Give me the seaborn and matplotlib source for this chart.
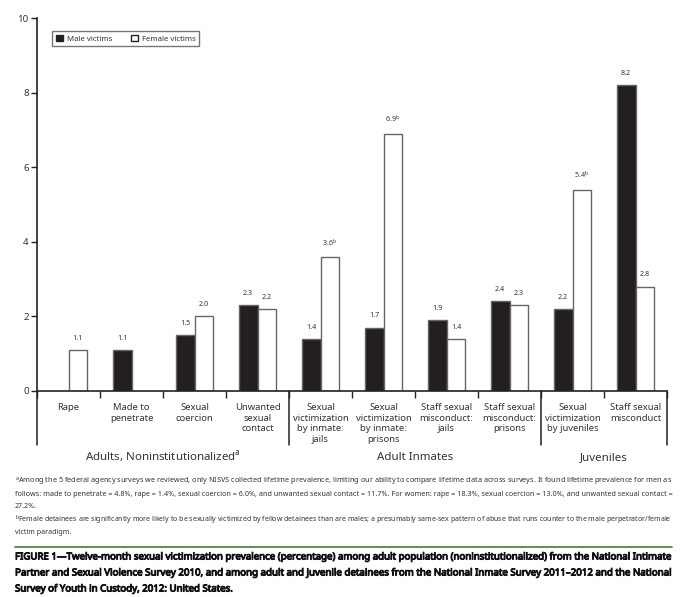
import matplotlib
matplotlib.use("Agg")
import matplotlib.pyplot as plt
import matplotlib.patheffects as pe
import seaborn as sns
import numpy as np
import pandas as pd

categories = ["Rape", "Made to\npenetrate", "Sexual\ncoercion", "Unwanted\nsexual\ncontact",
              "Sexual\nvictimization\nby inmate:\njails", "Sexual\nvictimization\nby inmate:\nprisons",
              "Staff sexual\nmisconduct:\njails", "Staff sexual\nmisconduct:\nprisons",
              "Sexual\nvictimization\nby juveniles", "Staff sexual\nmisconduct"]
male = [np.nan, 1.1, 1.5, 2.3, 1.4, 1.7, 1.9, 2.4, 2.2, 8.2]
female = [1.1, np.nan, 2.0, 2.2, 3.6, 6.9, 1.4, 2.3, 5.4, 2.8]
male_labels = ["", "1.1", "1.5", "2.3", "1.4", "1.7", "1.9", "2.4", "2.2", "8.2"]
female_labels = ["1.1", "", "2.0", "2.2", "3.6$^\\mathregular{b}$", "6.9$^\\mathregular{b}$", "1.4", "2.3",
                 "5.4$^\\mathregular{b}$", "2.8"]
series_names = ["Male victims", "Female victims"]
groups = ["Adults, Noninstitutionalized$^\\mathregular{a}$", "Adult Inmates", "Juveniles"]
group_spans = [(0, 3), (4, 7), (8, 9)]

sns.set_theme(style="white")
plt.rcParams['font.family'] = ['Noto Sans', 'DejaVu Sans']
txt = "#333333"

df = pd.DataFrame({
    "category": categories * 2,
    "value": male + female,
    "sex": [series_names[0]] * len(categories) + [series_names[1]] * len(categories),
})

fig = plt.figure(figsize=(6.88, 5.97), dpi=100)
ax = fig.add_axes([37 / 688, 1 - 391 / 597, 630 / 688, 373 / 597])

sns.barplot(data=df, x="category", y="value", hue="sex", order=categories,
            hue_order=series_names, palette=["#231f20", "#ffffff"], width=0.6,
            edgecolor="#666666", linewidth=1.0, ax=ax, saturation=1)

all_labels = [male_labels, female_labels]
for ci, cont in enumerate(ax.containers):
    for bar in cont:
        h = bar.get_height()
        if not np.isfinite(h) or h == 0:
            continue
        xc = bar.get_x() + bar.get_width() / 2
        idx = int(round(xc))
        ax.text(xc, h + 0.22, all_labels[ci][idx], ha="center", va="bottom",
                fontsize=5.2, color=txt)

ax.set_xlim(-0.5, 9.5)
ax.set_ylim(0, 10)
ax.set_xlabel("")
ax.set_ylabel("")
ax.set_yticks([0, 2, 4, 6, 8, 10])
ax.tick_params(axis="y", left=True, length=4, width=1, color="#222222", labelsize=7,
               labelcolor=txt, pad=2)
ax.set_xticks(range(len(categories)))
ax.set_xticklabels(categories, fontsize=6.8, color=txt, linespacing=1.2, va="top")
ax.tick_params(axis="x", bottom=False, pad=3)
ax.set_xticks(np.arange(-0.5, 10, 1), minor=True)
ax.tick_params(axis="x", which="minor", bottom=True, length=5, width=1, color="#222222", direction="out")

for s in ["top", "right"]:
    ax.spines[s].set_visible(False)
for s in ["left", "bottom"]:
    ax.spines[s].set_color("#222222")
    ax.spines[s].set_linewidth(1.2)

for xd in [-0.5, 3.5, 7.5, 9.5]:
    ax.plot([xd, xd], [0, -1.45], color="#222222", lw=1.1, clip_on=False)

for name, (a, b) in zip(groups, group_spans):
    ax.text((a + b) / 2, -1.78, name, ha="center", va="center", fontsize=8.3, color=txt)

leg = ax.legend(loc="upper left", bbox_to_anchor=(0.018, 0.975), ncol=2, fontsize=5.6,
                frameon=True, fancybox=False, edgecolor="#555555", handlelength=0.9,
                handleheight=0.9, columnspacing=2.4, handletextpad=0.5, borderpad=0.45,
                labelcolor=txt)
leg.get_frame().set_linewidth(1.0)
for h in leg.legend_handles:
    h.set_edgecolor("#222222")

foot = [
    (482, "$^\\mathregular{a}$Among the 5 federal agency surveys we reviewed, only NISVS collected lifetime prevalence, limiting our ability to compare lifetime data across surveys. It found lifetime prevalence for men as", True),
    (495, "follows: made to penetrate = 4.8%, rape = 1.4%, sexual coercion = 6.0%, and unwanted sexual contact = 11.7%. For women: rape = 18.3%, sexual coercion = 13.0%, and unwanted sexual contact =", True),
    (507, "27.2%.", False),
    (520, "$^\\mathregular{b}$Female detainees are significantly more likely to be sexually victimized by fellow detainees than are males; a presumably same-sex pattern of abuse that runs counter to the male perpetrator/female", True),
    (533, "victim paradigm.", False),
]
cap = [
    (557, "FIGURE 1\u2014Twelve-month sexual victimization prevalence (percentage) among adult population (noninstitutionalized) from the National Intimate", True),
    (573, "Partner and Sexual Violence Survey 2010, and among adult and juvenile detainees from the National Inmate Survey 2011\u20132012 and the National", True),
    (589, "Survey of Youth in Custody, 2012: United States.", False),
]

renderer = fig.canvas.get_renderer()
target_w = 657.0


def place(lines, base_size, **kw):
    objs = []
    for y, t, full in lines:
        o = fig.text(15 / 688, 1 - y / 597, t, fontsize=base_size, va="center", ha="left",
                     stretch="condensed", **kw)
        objs.append((o, full))
    sizes = []
    for o, full in objs:
        if full:
            w = o.get_window_extent(renderer).width
            sizes.append(base_size * target_w / w)
    s = min(sizes)
    for o, full in objs:
        if full:
            w = o.get_window_extent(renderer).width
            o.set_fontsize(base_size * target_w / w)
        else:
            o.set_fontsize(s)
    return objs


place(foot, 5.6, color=txt)
caps = place(cap, 7.3, color="#111111", weight=900)
for o, _ in caps:
    o.set_path_effects([pe.withStroke(linewidth=0.7, foreground="#111111")])

fig.add_artist(plt.Line2D([15 / 688, 672 / 688], [1 - 547 / 597, 1 - 547 / 597],
                          color="#4f8a3c", lw=1.3))

fig.savefig("out.png", dpi=100)
